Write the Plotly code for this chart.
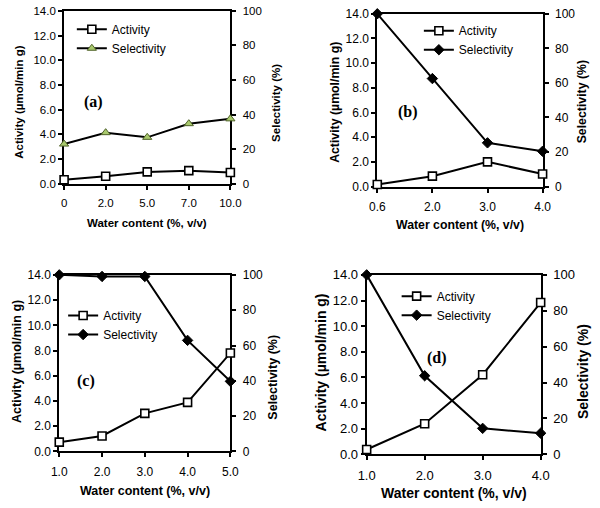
import plotly.graph_objects as go

# ---------------- data ----------------
cats_a = ["0", "2.0", "5.0", "7.0", "10.0"]
act_a = [0.32, 0.6, 0.95, 1.05, 0.9]
sel_a = [22.9, 29.5, 26.8, 34.7, 37.5]

cats_b = ["0.6", "2.0", "3.0", "4.0"]
act_b = [0.16, 0.84, 2.0, 1.02]
sel_b = [100.0, 62.5, 25.3, 20.4]

cats_c = ["1.0", "2.0", "3.0", "4.0", "5.0"]
act_c = [0.74, 1.23, 3.02, 3.89, 7.8]
sel_c = [100.0, 99.1, 99.1, 62.9, 39.7]

cats_d = ["1.0", "2.0", "3.0", "4.0"]
act_d = [0.38, 2.39, 6.21, 11.84]
sel_d = [100.0, 43.8, 14.5, 11.8]

left_ticks = [0, 2, 4, 6, 8, 10, 12, 14]
right_ticks = [0, 20, 40, 60, 80, 100]
panel_labels = ["(a)", "(b)", "(c)", "(d)"]

X_TITLE = "Water content (%, v/v)"
Y_TITLE = "Activity (µmol/min g)"
Y2_TITLE = "Selectivity (%)"

W, H = 600, 508
SANS = "Liberation Sans, Arial, sans-serif"
SERIF = "Liberation Serif, Times New Roman, serif"


def fx(px):
    return min(max(px / W, 0.0), 1.0)


def fy(py):
    return min(max(1 - py / H, 0.0), 1.0)


# panel geometry in pixels: (left, right, top, bottom)
panels = [
    dict(cats=cats_a, act=act_a, sel=sel_a, box=(57, 229, 4, 182), tick=11.5, title=11.5,
         sel_marker=dict(symbol="triangle-up", size=8, color="#a9c96d", line=dict(color="#4f6228", width=1)),
         ytx=10, yty=98, y2tx=276, y2ty=99, xtty=223, lab=(87, 98), leg=(65, 8)),
    dict(cats=cats_b, act=act_b, sel=sel_b, box=(381, 552, 7, 185), tick=12, title=12.3,
         sel_marker=dict(symbol="diamond", size=8, color="black", line=dict(color="black", width=1)),
         ytx=337, yty=98, y2tx=593, y2ty=98, xtty=225, lab=(413, 108), leg=(424, 9.5)),
    dict(cats=cats_c, act=act_c, sel=sel_c, box=(52, 229, 276, 458), tick=12, title=12.5,
         sel_marker=dict(symbol="diamond", size=8, color="black", line=dict(color="black", width=1)),
         ytx=8, yty=365, y2tx=273, y2ty=381, xtty=499, lab=(80, 385), leg=(56, 303)),
    dict(cats=cats_d, act=act_d, sel=sel_d, box=(370, 550, 276, 461), tick=13, title=14,
         sel_marker=dict(symbol="diamond", size=8, color="black", line=dict(color="black", width=1)),
         ytx=323, yty=366, y2tx=594, y2ty=376, xtty=501, lab=(443, 362), leg=(401, 283)),
]

fig = go.Figure()
layout = {}
annotations = []


def ax_name(prefix, i):
    return prefix if i == 1 else f"{prefix}{i}"


for p, P in enumerate(panels):
    l, r, t, b = P["box"]
    n = len(P["cats"])
    xi, xdi = 2 * p + 1, 2 * p + 2
    yi, ydi, y2i, y2di = 4 * p + 1, 4 * p + 2, 4 * p + 3, 4 * p + 4
    xr = ax_name("x", xi)
    yr, y2r = ax_name("y", yi), ax_name("y", y2i)
    tfont = dict(family=SANS, size=P["tick"], color="black")
    common = dict(showgrid=False, zeroline=False, tickcolor="black", tickwidth=2, ticklen=4)

    layout["xaxis" if xi == 1 else f"xaxis{xi}"] = dict(
        domain=[fx(l), fx(r)], anchor=yr, type="category", range=[0, n - 1],
        showline=True, linecolor="black", linewidth=2, mirror=True, ticks="outside",
        tickfont=tfont, layer="below traces", ticklabelstandoff=4, **common)
    layout[f"xaxis{xdi}"] = dict(
        overlaying=xr, anchor=yr, type="linear", range=[0, n - 1],
        tickvals=list(range(n)), ticks="inside", showticklabels=False, showline=False, **common)
    layout["yaxis" if yi == 1 else f"yaxis{yi}"] = dict(
        domain=[fy(b), fy(t)], anchor=xr, range=[0, 14], tickvals=left_ticks,
        tickformat=".1f", showline=True, linecolor="black", linewidth=2, ticks="outside",
        tickfont=tfont, layer="below traces", **common)
    layout[f"yaxis{ydi}"] = dict(
        overlaying=yr, anchor=xr, range=[0, 14], tickvals=left_ticks, ticks="inside",
        showticklabels=False, showline=False, **common)
    layout[f"yaxis{y2i}"] = dict(
        overlaying=yr, anchor=xr, side="right", range=[0, 100], tickvals=right_ticks,
        showline=True, linecolor="black", linewidth=2, ticks="outside", tickfont=tfont,
        layer="below traces", ticklabelstandoff=4, **common)
    layout[f"yaxis{y2di}"] = dict(
        overlaying=yr, anchor=xr, side="right", range=[0, 100], tickvals=right_ticks,
        ticks="inside", showticklabels=False, showline=False, **common)

    leg = "legend" if p == 0 else f"legend{p + 1}"
    layout[leg] = dict(
        x=fx(P["leg"][0]), y=fy(P["leg"][1]), xanchor="left", yanchor="top",
        bgcolor="rgba(0,0,0,0)", borderwidth=0, font=dict(family=SANS, size=12, color="black"),
        itemwidth=30, tracegroupgap=0)

    fig.add_trace(go.Scatter(
        x=P["cats"], y=P["act"], name="Activity", mode="lines+markers", xaxis=xr, yaxis=yr,
        line=dict(color="black", width=2), cliponaxis=False, legend=leg,
        marker=dict(symbol="square", size=8, color="white", line=dict(color="black", width=1.6))))
    fig.add_trace(go.Scatter(
        x=P["cats"], y=P["sel"], name="Selectivity", mode="lines+markers", xaxis=xr, yaxis=y2r,
        line=dict(color="black", width=2), cliponaxis=False, legend=leg,
        marker=P["sel_marker"]))

    tf = dict(family=SANS, size=P["title"], color="black")
    annotations.append(dict(text=f"<b>{Y_TITLE}</b>", x=fx(P["ytx"]), y=fy(P["yty"]),
                            xref="paper", yref="paper", showarrow=False, textangle=-90,
                            xanchor="center", yanchor="middle", font=tf))
    annotations.append(dict(text=f"<b>{Y2_TITLE}</b>", x=fx(P["y2tx"]), y=fy(P["y2ty"]),
                            xref="paper", yref="paper", showarrow=False, textangle=-90,
                            xanchor="center", yanchor="middle", font=tf))
    annotations.append(dict(text=f"<b>{X_TITLE}</b>", x=fx((l + r) / 2), y=fy(P["xtty"]),
                            xref="paper", yref="paper", showarrow=False,
                            xanchor="center", yanchor="middle", font=tf))
    annotations.append(dict(text=f"<b>{panel_labels[p]}</b>", x=fx(P["lab"][0]), y=fy(P["lab"][1]),
                            xref="paper", yref="paper", showarrow=False,
                            xanchor="center", yanchor="middle",
                            font=dict(family=SERIF, size=16, color="black")))

fig.update_layout(
    width=W, height=H, margin=dict(l=0, r=0, t=0, b=0),
    paper_bgcolor="white", plot_bgcolor="white", showlegend=True,
    annotations=annotations, **layout)

# remove the browser's default 8px body margin so the figure fills the window exactly
page_fix = (
    "document.documentElement.style.margin='0';"
    "document.body.style.margin='0';"
    "document.body.style.overflow='hidden';"
)
fig.write_html("out.html", config={"displayModeBar": False}, post_script=page_fix)
